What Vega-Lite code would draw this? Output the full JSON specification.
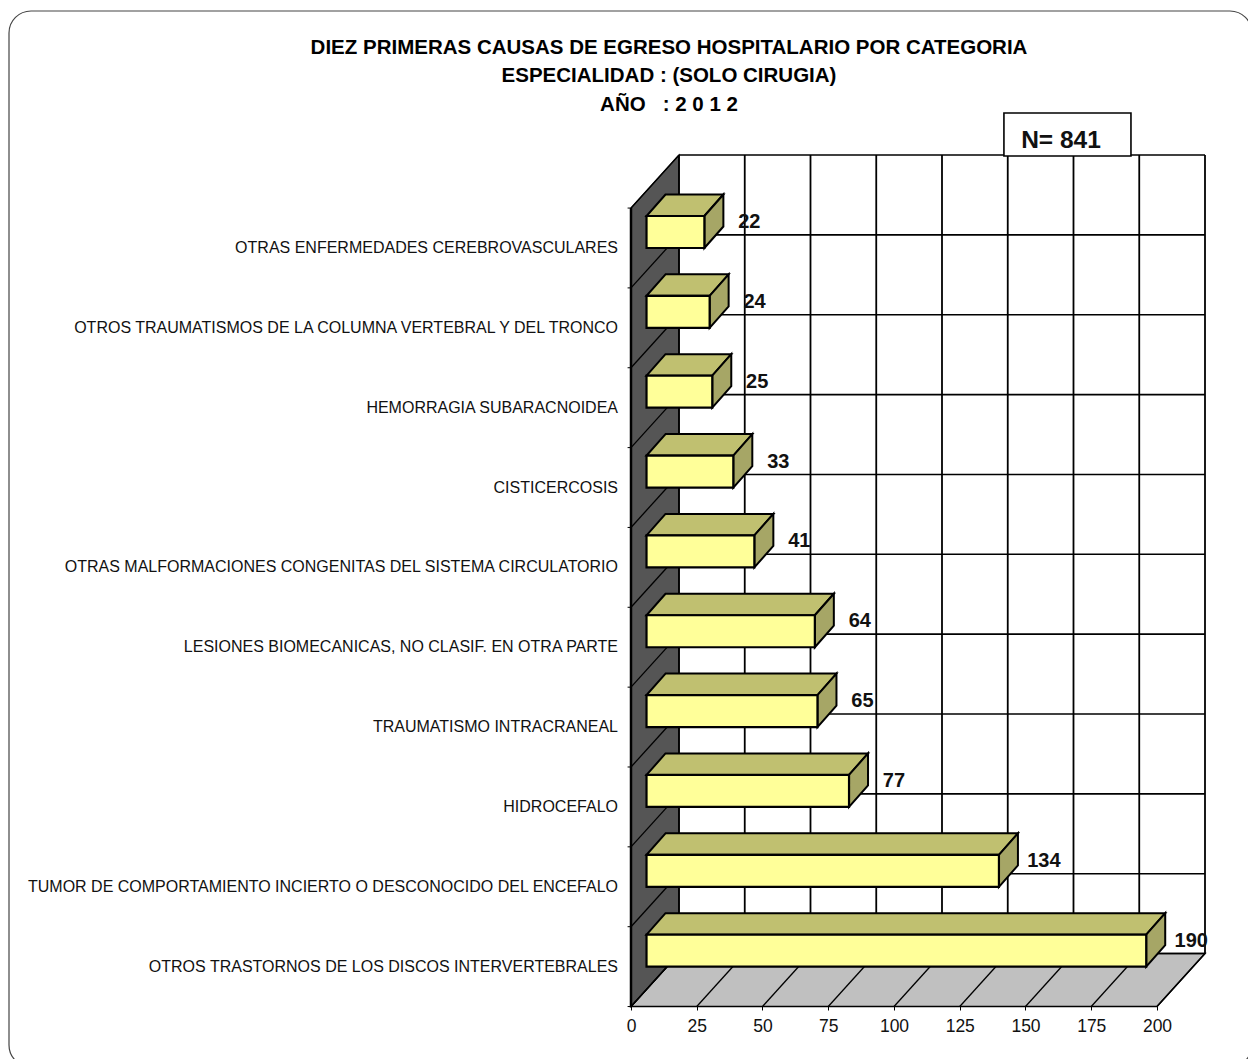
{
"$schema":"https://vega.github.io/schema/vega-lite/v6.json",
"width":1248,"height":1059,"padding":0,"autosize":{"type":"none"},
"background":"white",
"config":{"view":{"stroke":null},"font":"Liberation Sans"},
"title":{"text":["DIEZ PRIMERAS CAUSAS DE EGRESO HOSPITALARIO POR CATEGORIA","ESPECIALIDAD : (SOLO CIRUGIA)","AÑO\u00a0\u00a0\u00a0:\u00a02\u00a00\u00a01\u00a02"],"font":"Liberation Sans","fontWeight":"bold","fontSize":20.5,"lineHeight":28.5,"color":"black","anchor":"middle","baseline":"top","offset":0,"dy":115,"dx":45},
"datasets":{
"causas":[
{"causa":"OTRAS ENFERMEDADES CEREBROVASCULARES","egresos":22,"orden":1},
{"causa":"OTROS TRAUMATISMOS DE LA COLUMNA VERTEBRAL Y DEL TRONCO","egresos":24,"orden":2},
{"causa":"HEMORRAGIA SUBARACNOIDEA","egresos":25,"orden":3},
{"causa":"CISTICERCOSIS","egresos":33,"orden":4},
{"causa":"OTRAS MALFORMACIONES CONGENITAS DEL SISTEMA CIRCULATORIO","egresos":41,"orden":5},
{"causa":"LESIONES BIOMECANICAS, NO CLASIF. EN OTRA PARTE","egresos":64,"orden":6},
{"causa":"TRAUMATISMO INTRACRANEAL","egresos":65,"orden":7},
{"causa":"HIDROCEFALO","egresos":77,"orden":8},
{"causa":"TUMOR DE COMPORTAMIENTO INCIERTO O DESCONOCIDO DEL ENCEFALO","egresos":134,"orden":9},
{"causa":"OTROS TRASTORNOS DE LOS DISCOS INTERVERTEBRALES","egresos":190,"orden":10}],
"escala":[{"v":0},{"v":25},{"v":50},{"v":75},{"v":100},{"v":125},{"v":150},{"v":175},{"v":200}],
"cortes":[{"k":0},{"k":1},{"k":2},{"k":3},{"k":4},{"k":5},{"k":6},{"k":7},{"k":8},{"k":9},{"k":10}],
"uno":[{"n":841}]
},
"data":{"name":"causas"},
"encoding":{
"x":{"field":"x","type":"quantitative","scale":{"domain":[-239.924,234.601],"nice":false,"zero":false},
"axis":{"values":[0,25,50,75,100,125,150,175,200],"title":null,"grid":false,"domain":false,"offset":-53,"tickColor":"black","tickSize":4,"tickWidth":1,"labelPadding":7,"labelFontSize":17.5,"labelColor":"#111","labelFont":"Liberation Sans","labelFlush":false,"labelOverlap":false,"format":"d"}},
"y":{"field":"y","type":"quantitative","scale":{"domain":[-1.9055,11.357],"nice":false,"zero":false,"reverse":true},"axis":null}
},
"layer":[
{"data":{"name":"uno"},"transform":[{"calculate":"-236.5","as":"x"},{"calculate":"236.1","as":"x2"},{"calculate":"-1.768","as":"y"},{"calculate":"11.457","as":"y2"}],
"mark":{"type":"rect","cornerRadius":22,"fill":null,"filled":false,"stroke":"#444","strokeWidth":1.2},"encoding":{"x2":{"field":"x2"},"y2":{"field":"y2"}}},

{"data":{"name":"uno"},"transform":[{"calculate":"[0,1]","as":"k"},{"flatten":["k"]},{"calculate":"10.7-datum.k*0.6637","as":"y"},{"calculate":"datum.k*18.25","as":"x"},{"calculate":"200+datum.k*18.25","as":"x2"}],
"mark":{"type":"area","orient":"horizontal","fill":"#C0C0C0","stroke":"black","strokeWidth":1.5},"encoding":{"x2":{"field":"x2"}}},

{"data":{"name":"uno"},"transform":[{"calculate":"[0,1]","as":"k"},{"flatten":["k"]},{"calculate":"datum.k*18.25","as":"x"},{"calculate":"0.7-datum.k*0.6637","as":"y"},{"calculate":"10.7-datum.k*0.6637","as":"y2"}],
"mark":{"type":"area","orient":"vertical","fill":"#555555","stroke":"black","strokeWidth":1.2},"encoding":{"y2":{"field":"y2"}}},

{"data":{"name":"uno"},"transform":[{"calculate":"0","as":"x"},{"calculate":"0.7","as":"y"},{"calculate":"10.7","as":"y2"}],
"mark":{"type":"rule","color":"black","strokeWidth":2.5},"encoding":{"y2":{"field":"y2"}}},

{"data":{"name":"cortes"},"transform":[{"calculate":"-1.3","as":"x"},{"calculate":"0","as":"x2"},{"calculate":"datum.k+0.7","as":"y"}],
"mark":{"type":"rule","color":"black","strokeWidth":1},"encoding":{"x2":{"field":"x2"}}},

{"data":{"name":"cortes"},"transform":[{"calculate":"0","as":"x"},{"calculate":"18.25","as":"x2"},{"calculate":"datum.k+0.7","as":"y"},{"calculate":"datum.k+0.0363","as":"y2"}],
"mark":{"type":"rule","color":"black","strokeWidth":1.3},"encoding":{"x2":{"field":"x2"},"y2":{"field":"y2"}}},

{"data":{"name":"cortes"},"transform":[{"calculate":"18.25","as":"x"},{"calculate":"218.25","as":"x2"},{"calculate":"datum.k+0.0363","as":"y"}],
"mark":{"type":"rule","color":"black","strokeWidth":1.6},"encoding":{"x2":{"field":"x2"}}},

{"data":{"name":"escala"},"transform":[{"calculate":"datum.v+18.25","as":"x"},{"calculate":"0.0363","as":"y"},{"calculate":"10.0363","as":"y2"}],
"mark":{"type":"rule","color":"black","strokeWidth":1.8},"encoding":{"y2":{"field":"y2"}}},

{"data":{"name":"escala"},"transform":[{"calculate":"datum.v","as":"x"},{"calculate":"datum.v+18.25","as":"x2"},{"calculate":"10.7","as":"y"},{"calculate":"10.0363","as":"y2"}],
"mark":{"type":"rule","color":"black","strokeWidth":1.3},"encoding":{"x2":{"field":"x2"},"y2":{"field":"y2"}}},

{"transform":[{"calculate":"[0,1]","as":"k"},{"flatten":["k"]},{"calculate":"datum.orden-0.2004-datum.k*0.2693","as":"y"},{"calculate":"5.9+datum.k*7.224","as":"x"},{"calculate":"5.9+datum.egresos+datum.k*7.224","as":"x2"}],
"mark":{"type":"area","orient":"horizontal","fill":"#C0C070","stroke":"black","strokeWidth":2},"encoding":{"x2":{"field":"x2"},"detail":{"field":"causa"}}},

{"transform":[{"calculate":"[0,1]","as":"k"},{"flatten":["k"]},{"calculate":"5.9+datum.egresos+datum.k*7.224","as":"x"},{"calculate":"datum.orden-0.2004-datum.k*0.2693","as":"y"},{"calculate":"datum.orden+0.2004-datum.k*0.2693","as":"y2"}],
"mark":{"type":"area","orient":"vertical","fill":"#A6A666","stroke":"black","strokeWidth":2},"encoding":{"y2":{"field":"y2"},"detail":{"field":"causa"}}},

{"transform":[{"calculate":"5.9","as":"x"},{"calculate":"5.9+datum.egresos","as":"x2"},{"calculate":"datum.orden-0.2004","as":"y"},{"calculate":"datum.orden+0.2004","as":"y2"}],
"mark":{"type":"rect","fill":"#FFFF99","stroke":"black","strokeWidth":2.2},"encoding":{"x2":{"field":"x2"},"y2":{"field":"y2"}}},

{"transform":[{"calculate":"-4.94","as":"x"},{"calculate":"datum.orden+0.2","as":"y"}],
"mark":{"type":"text","align":"right","baseline":"middle","fontSize":16,"font":"Liberation Sans","color":"#111"},"encoding":{"text":{"field":"causa"}}},

{"transform":[{"calculate":"datum.egresos+23","as":"x"},{"calculate":"datum.orden-0.125","as":"y"}],
"mark":{"type":"text","align":"center","baseline":"middle","fontSize":20,"fontWeight":"bold","font":"Liberation Sans","color":"#111"},"encoding":{"text":{"field":"egresos","format":"d"}}},

{"data":{"name":"uno"},"transform":[{"calculate":"141.8","as":"x"},{"calculate":"190.1","as":"x2"},{"calculate":"-0.49","as":"y"},{"calculate":"0.048","as":"y2"}],
"mark":{"type":"rect","fill":"white","stroke":"black","strokeWidth":1.6},"encoding":{"x2":{"field":"x2"},"y2":{"field":"y2"}}},

{"data":{"name":"uno"},"transform":[{"calculate":"163.5","as":"x"},{"calculate":"-0.14","as":"y"},{"calculate":"'N= '+datum.n","as":"rotulo"}],
"mark":{"type":"text","align":"center","baseline":"middle","fontSize":24.5,"fontWeight":"bold","font":"Liberation Sans","color":"#111"},"encoding":{"text":{"field":"rotulo"}}}
]
}
